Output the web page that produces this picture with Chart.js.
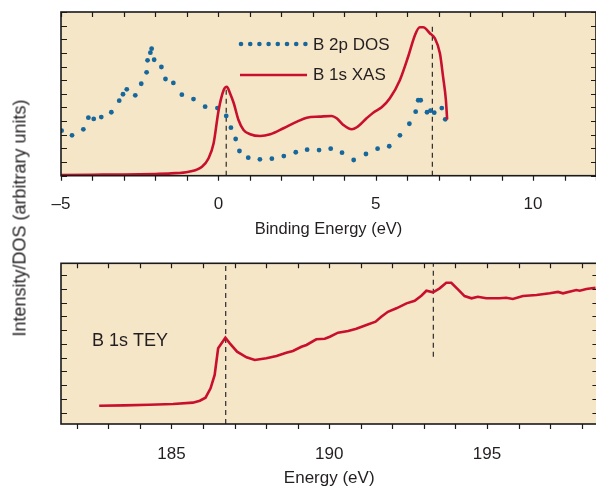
<!DOCTYPE html>
<html>
<head>
<meta charset="utf-8">
<script src="https://cdn.jsdelivr.net/npm/chart.js@4.4.1/dist/chart.umd.min.js"></script>
<style>
  html, body { margin: 0; padding: 0; background: #fff; }
  #wrap { position: relative; width: 596px; height: 486px; overflow: hidden; }
  canvas { position: absolute; left: 0; }
  #topChart { top: 0; }
  #bottomChart { top: 245px; }
  #ytitle {
    position: absolute; left: 20px; top: 218px;
    transform: translate(-50%, -50%) rotate(-90deg);
    white-space: nowrap; font: 18px "Liberation Sans", Arial, sans-serif; color: #231f20;
  }
</style>
</head>
<body>
<div id="wrap">
  <canvas id="topChart" width="600" height="245"></canvas>
  <canvas id="bottomChart" width="600" height="241"></canvas>
  <div id="ytitle">Intensity/DOS (arbitrary units)</div>
</div>
<script>
// B 2p density of states (binding energy, eV)
const dosEnergy = [-4.98, -4.65, -4.29, -4.13, -3.96, -3.72, -3.40, -3.15, -3.03, -2.91, -2.64, -2.45,
  -2.28, -2.25, -2.16, -2.12, -2.04, -1.81, -1.68, -1.43, -1.16, -0.79, -0.42, -0.03, 0.25, 0.40,
  0.55, 0.67, 0.95, 1.32, 1.70, 2.08, 2.46, 2.82, 3.20, 3.57, 3.93, 4.30, 4.69, 5.06, 5.43, 5.77,
  6.07, 6.27, 6.35, 6.43, 6.63, 6.74, 6.86, 7.10, 7.21];
const dosValues = [3.30, 2.96, 3.40, 4.25, 4.16, 4.30, 4.65, 5.50, 5.97, 6.33, 5.89, 6.74,
  7.58, 8.46, 9.02, 9.31, 8.50, 7.97, 7.09, 6.80, 5.94, 5.62, 5.06, 4.96, 4.38, 3.52,
  2.69, 1.81, 1.32, 1.20, 1.25, 1.44, 1.72, 1.91, 1.88, 1.98, 1.69, 1.15, 1.59, 1.98, 2.16, 2.96,
  3.81, 4.69, 5.53, 5.53, 4.65, 4.77, 4.62, 4.96, 4.13];

// B 1s XAS on the binding energy scale
const xasEnergy = [-5.0, -4.0, -3.0, -2.0, -1.5, -0.94, -0.52, -0.31, -0.15, 0.01, 0.17, 0.27, 0.37,
  0.49, 0.64, 0.80, 1.01, 1.33, 1.65, 2.07, 2.50, 2.81, 3.23, 3.60, 3.76, 3.97, 4.24, 4.40, 4.71,
  4.92, 5.19, 5.45, 5.77, 6.03, 6.25, 6.40, 6.51, 6.72, 6.88, 7.04, 7.14, 7.23, 7.27];
const xasValues = [0.05, 0.07, 0.09, 0.13, 0.17, 0.29, 0.66, 1.28, 2.38, 4.82, 6.28, 6.52, 6.05,
  5.31, 4.08, 3.35, 3.04, 2.91, 3.04, 3.48, 3.96, 4.25, 4.33, 4.38, 4.21, 3.72, 3.40, 3.55, 4.21,
  4.62, 5.01, 5.67, 7.02, 8.72, 10.32, 10.88, 10.88, 10.44, 10.07, 8.97, 7.26, 5.55, 4.13];

// B 1s total electron yield (photon energy, eV)
const teyEnergy = [182.71, 183.5, 184.3, 185.05, 185.68, 185.90, 186.08, 186.24, 186.37, 186.48,
  186.71, 186.85, 187.08, 187.38, 187.64, 188.01, 188.33, 188.64, 188.85, 189.12, 189.28, 189.59,
  189.86, 190.02, 190.28, 190.60, 190.86, 191.18, 191.47, 191.65, 191.86, 192.13, 192.45, 192.71,
  192.92, 193.08, 193.29, 193.50, 193.71, 193.87, 194.08, 194.29, 194.51, 194.71, 194.98, 195.40,
  195.61, 195.82, 196.14, 196.57, 196.99, 197.25, 197.41, 197.83, 197.94, 198.15, 198.44];
const teyValues = [0.51, 0.53, 0.58, 0.63, 0.73, 0.87, 1.09, 1.77, 2.74, 4.68,
  5.45, 5.04, 4.43, 4.02, 3.83, 3.95, 4.12, 4.36, 4.48, 4.79, 4.92, 5.33,
  5.37, 5.52, 5.81, 5.93, 6.10, 6.37, 6.61, 6.97, 7.33, 7.58, 7.94, 8.13,
  8.50, 8.86, 8.74, 9.03, 9.44, 9.44, 8.96, 8.47, 8.31, 8.42, 8.31, 8.31,
  8.35, 8.26, 8.47, 8.55, 8.67, 8.77, 8.67, 8.91, 8.86, 8.98, 9.08];

// dashed guide lines: position and vertical extent
const topGuideX = [0.25, 6.8];
const topGuideFrom = [0, 0];
const topGuideTo = [6.3, 11.05];
const bottomGuideX = [186.72, 193.3];
const bottomGuideFrom = [-0.82, 4.07];
const bottomGuideTo = [10.85, 10.85];

// tick marks (labels only on multiples of 5)
const topXTicks = [-5, -4, -3, -2, -1, 0, 1, 2, 3, 4, 5, 6, 7, 8, 9, 10, 11, 12];
const bottomXTicks = [182, 183, 184, 185, 186, 187, 188, 189, 190, 191, 192, 193, 194, 195, 196, 197, 198];
const topYTicks = [0, 1, 2, 3, 4, 5, 6, 7, 8, 9, 10, 11, 12];
const bottomYTicks = [0, 1, 2, 3, 4, 5, 6, 7, 8, 9, 10];

const RED = '#c8102e';
const BLUE = '#16679c';
const PAPER = '#f6e6c8';
const INK = '#231f20';
const FONT = '"Liberation Sans", Arial, sans-serif';

Chart.defaults.font.family = FONT;
Chart.defaults.color = INK;

const toPoints = (xs, ys) => xs.map((x, i) => ({ x, y: ys[i] }));
const fixedTicks = values => scale => { scale.ticks = values.map(value => ({ value })); };

function guideSets(xs, from, to) {
  return xs.map((x, i) => ({
    data: [{ x, y: from[i] }, { x, y: to[i] }],
    borderColor: '#2a2a2a', borderWidth: 1.2, borderDash: [5, 4],
    pointRadius: 0, showLine: true, fill: false
  }));
}

// beige panel, frame and inward tick marks
const frameTicks = {
  id: 'frameTicks',
  beforeDraw(chart) {
    const { ctx, chartArea: a } = chart;
    ctx.save();
    ctx.fillStyle = PAPER;
    ctx.fillRect(a.left, a.top, a.right - a.left, a.bottom - a.top);
    ctx.restore();
  },
  afterDraw(chart) {
    const { ctx, chartArea: a, scales: { x, y } } = chart;
    ctx.save();
    ctx.strokeStyle = '#1a1a1a';
    ctx.lineWidth = 1.2;
    ctx.beginPath();
    x.ticks.forEach(t => {
      const px = Math.round(x.getPixelForValue(t.value)) + 0.5;
      ctx.moveTo(px, a.bottom); ctx.lineTo(px, a.bottom + 5);
      ctx.moveTo(px, a.top); ctx.lineTo(px, a.top + 5);
    });
    y.ticks.forEach(t => {
      const py = Math.round(y.getPixelForValue(t.value)) + 0.5;
      ctx.moveTo(a.left, py); ctx.lineTo(a.left + 6, py);
      ctx.moveTo(a.right, py); ctx.lineTo(a.right - 5, py);
    });
    ctx.stroke();
    ctx.lineWidth = 1.6;
    ctx.strokeRect(a.left, a.top, a.right - a.left, a.bottom - a.top);
    ctx.restore();
  }
};

// in-plot legend for the upper panel
const panelLegend = {
  id: 'panelLegend',
  afterDraw(chart) {
    const { ctx } = chart;
    ctx.save();
    ctx.fillStyle = BLUE;
    for (let i = 0; i < 8; i++) {
      ctx.beginPath();
      ctx.arc(241 + i * 9.2, 44, 2.3, 0, Math.PI * 2);
      ctx.fill();
    }
    ctx.strokeStyle = RED;
    ctx.lineWidth = 2.6;
    ctx.beginPath();
    ctx.moveTo(240, 75); ctx.lineTo(307, 75);
    ctx.stroke();
    ctx.fillStyle = INK;
    ctx.font = '17px ' + FONT;
    ctx.textBaseline = 'middle';
    ctx.fillText('B 2p DOS', 313, 45);
    ctx.fillText('B 1s XAS', 313, 75);
    ctx.restore();
  }
};

const panelLabel = {
  id: 'panelLabel',
  afterDraw(chart) {
    const { ctx } = chart;
    ctx.save();
    ctx.fillStyle = INK;
    ctx.font = '18px ' + FONT;
    ctx.textBaseline = 'middle';
    ctx.fillText('B 1s TEY', 92, 96);
    ctx.restore();
  }
};

const tickLabel = v => (v % 5 === 0 ? (v < 0 ? '\u2013' + Math.abs(v) : String(v)) : '');

// x axis: fixed band height, no side padding so the plot runs to the right edge
const xFit = h => s => { s.height = h; s.paddingLeft = 0; s.paddingRight = 0; };

new Chart(document.getElementById('topChart'), {
  type: 'line',
  data: {
    datasets: [
      { label: 'B 1s XAS', data: toPoints(xasEnergy, xasValues), borderColor: RED, borderWidth: 2.6,
        pointRadius: 0, cubicInterpolationMode: 'monotone', fill: false },
      { label: 'B 2p DOS', data: toPoints(dosEnergy, dosValues), showLine: false,
        pointRadius: 2.4, pointBackgroundColor: BLUE, pointBorderWidth: 0 },
      ...guideSets(topGuideX, topGuideFrom, topGuideTo)
    ]
  },
  options: {
    responsive: false,
    animation: false,
    layout: { padding: { top: 12, right: 2.6, left: 0, bottom: 0 } },
    plugins: { legend: { display: false }, tooltip: { enabled: false } },
    scales: {
      x: {
        type: 'linear', min: -5, max: 12,
        grid: { display: false }, border: { display: false },
        ticks: { autoSkip: false, maxRotation: 0, padding: 10, font: { size: 17 }, callback: tickLabel },
        afterBuildTicks: fixedTicks(topXTicks),
        title: { display: true, text: 'Binding Energy (eV)', font: { size: 16.5 }, padding: { top: 0, bottom: 6 } },
        afterFit: xFit(69.3)
      },
      y: {
        min: 0, max: 12,
        grid: { display: false }, border: { display: false },
        ticks: { display: false },
        afterBuildTicks: fixedTicks(topYTicks),
        afterFit: s => { s.width = 61; }
      }
    }
  },
  plugins: [frameTicks, panelLegend]
});

new Chart(document.getElementById('bottomChart'), {
  type: 'line',
  data: {
    datasets: [
      { label: 'B 1s TEY', data: toPoints(teyEnergy, teyValues), borderColor: RED, borderWidth: 2.6,
        pointRadius: 0, tension: 0, fill: false },
      ...guideSets(bottomGuideX, bottomGuideFrom, bottomGuideTo)
    ]
  },
  options: {
    responsive: false,
    animation: false,
    layout: { padding: { top: 18.3, right: 2.6, left: 0, bottom: 0 } },
    plugins: { legend: { display: false }, tooltip: { enabled: false } },
    scales: {
      x: {
        type: 'linear', min: 181.5, max: 198.5,
        grid: { display: false }, border: { display: false },
        ticks: { autoSkip: false, maxRotation: 0, padding: 12, font: { size: 17 }, callback: tickLabel },
        afterBuildTicks: fixedTicks(bottomXTicks),
        title: { display: true, text: 'Energy (eV)', font: { size: 17 }, padding: { top: 0, bottom: -3 } },
        afterFit: xFit(62)
      },
      y: {
        min: -0.82, max: 10.85,
        grid: { display: false }, border: { display: false },
        ticks: { display: false },
        afterBuildTicks: fixedTicks(bottomYTicks),
        afterFit: s => { s.width = 61; }
      }
    }
  },
  plugins: [frameTicks, panelLabel]
});
</script>
</body>
</html>
